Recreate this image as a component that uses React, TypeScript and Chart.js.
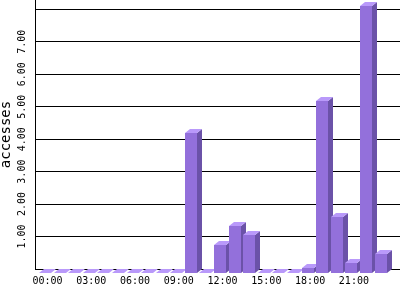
import { useEffect, useRef } from 'react';
import { Chart, registerables } from 'chart.js';

Chart.register(...registerables);

const hourLabels = [
  '00:00', '01:00', '02:00', '03:00', '04:00', '05:00', '06:00', '07:00',
  '08:00', '09:00', '10:00', '11:00', '12:00', '13:00', '14:00', '15:00',
  '16:00', '17:00', '18:00', '19:00', '20:00', '21:00', '22:00', '23:00',
];
const accesses = [
  0, 0, 0, 0, 0, 0, 0, 0, 0, 0, 4.3, 0,
  0.86, 1.46, 1.17, 0, 0, 0, 0.15, 5.29, 1.73, 0.32, 8.23, 0.59,
];
const xTickHours = [0, 3, 6, 9, 12, 15, 18, 21];
const yGridValues = [0, 1, 2, 3, 4, 5, 6, 7, 8];
const yLabelValues = [1, 2, 3, 4, 5, 6, 7];

const FRONT = '#9370DB';
const SIDE = '#6B52A8';
const TOP = '#B999FA';
const DX = 5;
const DY = 4;

const bars3d = {
  id: 'bars3d',
  afterDatasetsDraw(chart: any) {
    const ctx = chart.ctx;
    const meta = chart.getDatasetMeta(0);
    ctx.save();
    meta.data.forEach((el: any) => {
      const { x, y, base, width } = el.getProps(['x', 'y', 'base', 'width'], true);
      const w = Math.round(width);
      const fl = Math.round(x - (w + DX) / 2);
      const fr = fl + w;
      const yt = Math.round(y);
      const b = Math.round(base);
      // side face
      ctx.fillStyle = SIDE;
      ctx.beginPath();
      ctx.moveTo(fr, yt + DY);
      ctx.lineTo(fr + DX, yt);
      ctx.lineTo(fr + DX, b);
      ctx.lineTo(fr, b + DY);
      ctx.closePath();
      ctx.fill();
      // top face
      ctx.fillStyle = TOP;
      ctx.beginPath();
      ctx.moveTo(fl, yt + DY);
      ctx.lineTo(fl + DX, yt);
      ctx.lineTo(fr + DX, yt);
      ctx.lineTo(fr, yt + DY);
      ctx.closePath();
      ctx.fill();
      // front face
      ctx.fillStyle = FRONT;
      ctx.fillRect(fl, yt + DY, w, b - yt);
    });
    ctx.restore();
  },
};

export default function App() {
  const ref = useRef<HTMLCanvasElement | null>(null);

  useEffect(() => {
    document.body.style.margin = '0';
    const canvas = ref.current;
    if (!canvas) return;
    const chart = new Chart(canvas, {
      type: 'bar',
      data: {
        datasets: [
          {
            label: 'accesses',
            data: accesses.map((v, i) => ({ x: i, y: v })),
            backgroundColor: 'rgba(0,0,0,0)',
            borderWidth: 0,
            barThickness: 12,
          },
        ],
      },
      plugins: [bars3d],
      options: {
        responsive: false,
        animation: false,
        devicePixelRatio: 1,
        layout: { padding: 0 },
        plugins: {
          legend: { display: false },
          tooltip: { enabled: false },
          title: { display: false },
        },
        scales: {
          x: {
            type: 'linear',
            min: -0.857,
            max: 24.16,
            offset: false,
            z: 1,
            grid: { display: false, drawTicks: false, offset: false },
            border: { display: true, color: '#000', width: 1 },
            afterBuildTicks: (scale: any) => {
              scale.ticks = xTickHours.map((v) => ({ value: v }));
            },
            afterFit: (scale: any) => {
              scale.height = 31;
              scale.paddingLeft = 0;
              scale.paddingRight = 0;
            },
            ticks: {
              autoSkip: false,
              maxRotation: 0,
              minRotation: 0,
              padding: 6,
              color: '#000',
              font: { family: 'DejaVu Sans Mono', size: 10 },
              callback: (v: any) => hourLabels[Number(v)] ?? '',
            },
          },
          y: {
            type: 'linear',
            min: 0,
            max: 8.287,
            grid: { display: true, drawTicks: false, color: '#000', lineWidth: 1 },
            border: { display: true, color: '#000', width: 1 },
            afterBuildTicks: (scale: any) => {
              scale.ticks = yGridValues.map((v) => ({ value: v }));
            },
            afterFit: (scale: any) => {
              scale.width = 35;
              scale.paddingTop = 0;
              scale.paddingBottom = 0;
            },
            title: {
              display: true,
              text: 'accesses',
              color: '#000',
              padding: 0,
              font: { family: 'DejaVu Sans Mono', size: 14, lineHeight: 0.84 },
            },
            ticks: {
              autoSkip: false,
              minRotation: 90,
              maxRotation: 90,
              crossAlign: 'center',
              padding: 1,
              color: '#000',
              font: { family: 'DejaVu Sans Mono', size: 10 },
              callback: (v: any) =>
                yLabelValues.includes(Number(v)) ? Number(v).toFixed(2) : '',
            },
          },
        },
      },
    } as any);
    return () => chart.destroy();
  }, []);

  return (
    <div style={{ width: 400, height: 300 }}>
      <canvas ref={ref} width={400} height={300} style={{ display: 'block' }} />
    </div>
  );
}
